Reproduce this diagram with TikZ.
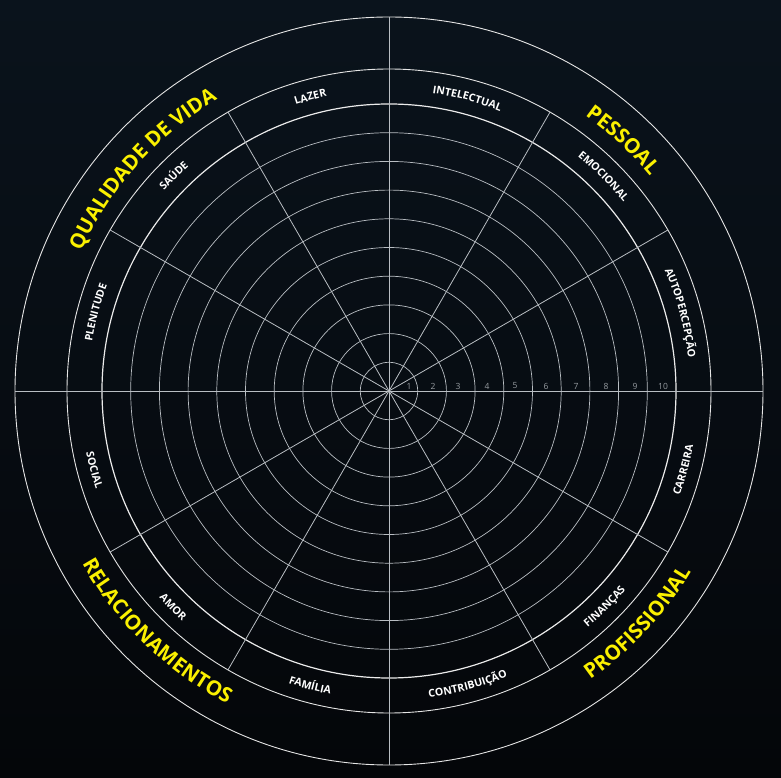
\documentclass[tikz,border=0pt]{standalone}
\usepackage{fontspec}
\setmainfont{Open Sans}
\usetikzlibrary{decorations.text}
\definecolor{bgtop}{RGB}{10,19,28}
\definecolor{bgbot}{RGB}{4,6,9}
\definecolor{ylw}{RGB}{250,240,0}
\definecolor{ringc}{RGB}{185,190,195}
\definecolor{numc}{RGB}{150,155,160}
\newcommand{\subfnt}{\fontsize{10.6}{10.6}\selectfont\bfseries}
\newcommand{\catfnt}{\fontsize{20.5}{20.5}\selectfont\bfseries}
\tikzset{
  ringline/.style={draw=ringc, line width=0.7pt},
  tenline/.style={draw=white!92!black, line width=1.2pt},
  outerline/.style={draw=white!90!black, line width=0.9pt},
  spokeline/.style={draw=ringc, line width=0.8pt},
  numlabel/.style={text=numc, font=\fontsize{8.5}{9}\selectfont, inner sep=0pt},
}
\newcommand{\toplabel}[4]{% angle, radius, color, text
  \path[decorate, decoration={text along path, text align=center, text color=#3,
     text={#4}}] ({#1+16}:#2) arc[start angle={#1+16}, end angle={#1-16}, radius=#2];}
\newcommand{\botlabel}[4]{%
  \path[decorate, decoration={text along path, text align=center, text color=#3,
     text={#4}}] ({#1-16}:#2) arc[start angle={#1-16}, end angle={#1+16}, radius=#2];}
\newcommand{\topcat}[3]{%
  \path[decorate, decoration={text along path, text align=center, text color=ylw,
     text={#3}}] ({#1+42}:#2) arc[start angle={#1+42}, end angle={#1-42}, radius=#2];}
\newcommand{\botcat}[3]{%
  \path[decorate, decoration={text along path, text align=center, text color=ylw,
     text={#3}}] ({#1-42}:#2) arc[start angle={#1-42}, end angle={#1+42}, radius=#2];}
\begin{document}
\begin{tikzpicture}[x=1pt,y=1pt]
\fill[top color=bgtop, bottom color=bgbot] (-389,-387) rectangle (392,391);
\useasboundingbox (-389,-387) rectangle (392,391);
\coordinate (c) at (0,0);
% rating rings
\foreach \k in {1,...,9} \draw[ringline] (c) circle[radius=28.7*\k];
\draw[tenline] (c) circle[radius=287];
\draw[outerline] (c) circle[radius=322];
\draw[outerline] (c) circle[radius=374];
% spokes
\foreach \a in {30,60,120,150,210,240,300,330} \draw[spokeline] (c) -- (\a:322);
\coordinate (w) at (180:374);
\coordinate (e) at (0:374);
\coordinate (n) at (90:374);
\coordinate (s) at (270:374);
\draw[spokeline] (w) -- (e);
\draw[spokeline] (n) -- (s);
% numbers
\node[numlabel] (n1) at (20,5) {1};
\node[numlabel] (n2) at (44,5) {2};
\node[numlabel] (n3) at (69,5) {3};
\node[numlabel] (n4) at (98,5) {4};
\node[numlabel] (n5) at (126,5) {5};
\node[numlabel] (n6) at (157,5) {6};
\node[numlabel] (n7) at (187,5) {7};
\node[numlabel] (n8) at (217,5) {8};
\node[numlabel] (n9) at (246,5) {9};
\node[numlabel] (n10) at (274,5) {10};
% sub labels
\toplabel{105}{301}{white}{|\subfnt|LAZER}
\toplabel{75}{301}{white}{|\subfnt|INTELECTUAL}
\toplabel{45}{301}{white}{|\subfnt|EMOCIONAL}
\toplabel{15}{301}{white}{|\subfnt|AUTOPERCEPÇÃO}
\toplabel{135}{301}{white}{|\subfnt|SAÚDE}
\toplabel{165}{301}{white}{|\subfnt|PLENITUDE}
\botlabel{-15}{309}{white}{|\subfnt|CARREIRA}
\botlabel{-45}{309}{white}{|\subfnt|FINANÇAS}
\botlabel{-75}{309}{white}{|\subfnt|CONTRIBUIÇÃO}
\botlabel{-105}{309}{white}{|\subfnt|FAMÍLIA}
\botlabel{-135}{309}{white}{|\subfnt|AMOR}
\botlabel{-165}{309}{white}{|\subfnt|SOCIAL}
% categories
\topcat{138}{338}{|\catfnt|QUALIDADE DE VIDA}
\topcat{47}{338}{|\catfnt|PESSOAL}
\botcat{-43}{352}{|\catfnt|PROFISSIONAL}
\botcat{-134}{352}{|\catfnt|RELACIONAMENTOS}
\end{tikzpicture}
\end{document}
